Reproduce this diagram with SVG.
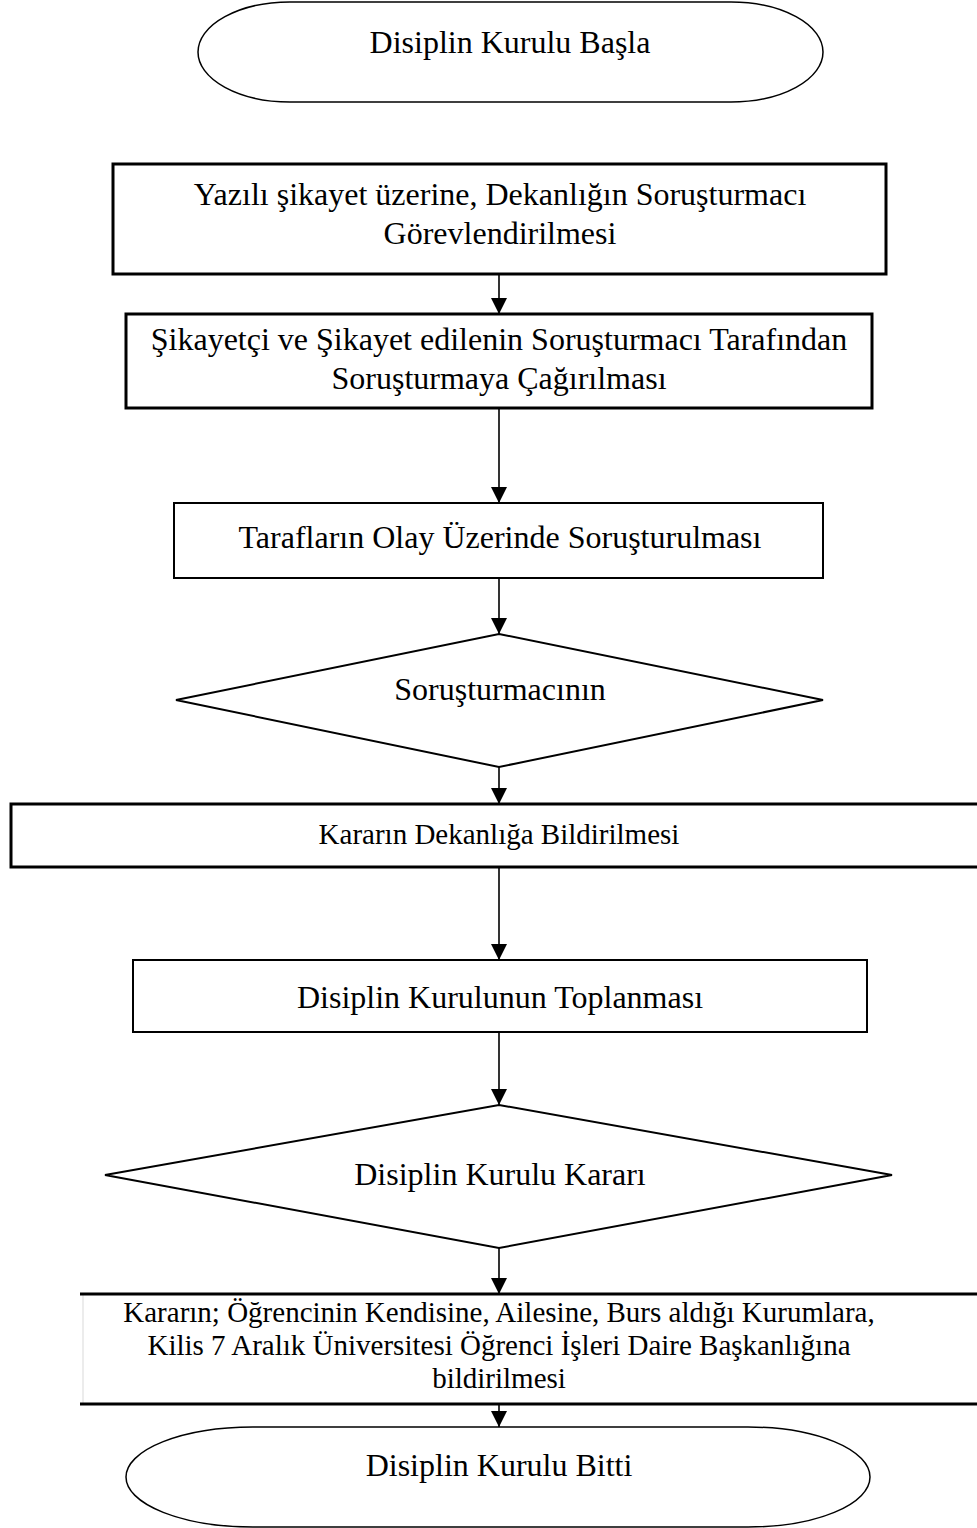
<svg xmlns="http://www.w3.org/2000/svg" width="977" height="1528" viewBox="0 0 977 1528">
<style>
.t{font-family:"Liberation Serif","Times New Roman",serif;font-size:32px;fill:#000;text-anchor:middle}
.s{font-size:29px}
.box{fill:#fff;stroke:#000;stroke-width:3}
.dia{fill:#fff;stroke:#000;stroke-width:2}
.term{fill:#fff;stroke:#000;stroke-width:1.5}
.con{stroke:#000;stroke-width:1.6;fill:none;marker-end:url(#ah)}
</style>
<defs>
<marker id="ah" markerUnits="userSpaceOnUse" markerWidth="18" markerHeight="16" refX="16" refY="8" orient="auto">
<path d="M0,0 L16,8 L0,16 Z" fill="#000"/>
</marker>
</defs>
<rect width="977" height="1528" fill="#fff"/>
<g id="start">
<path class="term" d="M290,2 L731,2 A92,50 0 0 1 731,102 L290,102 A92,50 0 0 1 290,2 Z"/>
<text class="t" x="510" y="53">Disiplin Kurulu Başla</text>
</g>
<g id="n1">
<rect class="box" x="113" y="164" width="773" height="110"/>
<text class="t" x="500" y="205">Yazılı şikayet üzerine, Dekanlığın Soruşturmacı</text>
<text class="t" x="500" y="244">Görevlendirilmesi</text>
</g>
<g id="n2">
<rect class="box" x="126" y="314" width="746" height="94"/>
<text class="t" x="499" y="350">Şikayetçi ve Şikayet edilenin Soruşturmacı Tarafından</text>
<text class="t" x="499" y="389">Soruşturmaya Çağırılması</text>
</g>
<g id="n3">
<rect class="box" x="174" y="503" width="649" height="75" style="stroke-width:2"/>
<text class="t" x="500" y="548">Tarafların Olay Üzerinde Soruşturulması</text>
</g>
<g id="d1">
<polygon class="dia" points="499,634 823,700 499,767 176,700"/>
<text class="t" x="500" y="700">Soruşturmacının</text>
</g>
<g id="n4">
<rect class="box" x="11" y="804" width="990" height="63"/>
<text class="t s" x="499" y="844">Kararın Dekanlığa Bildirilmesi</text>
</g>
<g id="n5">
<rect class="box" x="133" y="960" width="734" height="72" style="stroke-width:2"/>
<text class="t" x="500" y="1008">Disiplin Kurulunun Toplanması</text>
</g>
<g id="d2">
<polygon class="dia" points="499,1105 892,1175 499,1248 105,1175"/>
<text class="t" x="500" y="1185">Disiplin Kurulu Kararı</text>
</g>
<g id="n6">
<rect x="83" y="1294" width="920" height="110" fill="#fff"/>
<line x1="83" y1="1294" x2="83" y2="1404" stroke="#e6e6e6" stroke-width="1.5"/>
<line x1="80" y1="1294" x2="977" y2="1294" stroke="#000" stroke-width="3"/>
<line x1="80" y1="1404" x2="977" y2="1404" stroke="#000" stroke-width="3"/>
<text class="t s" x="499" y="1322">Kararın; Öğrencinin Kendisine, Ailesine, Burs aldığı Kurumlara,</text>
<text class="t s" x="499" y="1355">Kilis 7 Aralık Üniversitesi Öğrenci İşleri Daire Başkanlığına</text>
<text class="t s" x="499" y="1388">bildirilmesi</text>
</g>
<g id="end">
<path class="term" d="M253,1427 L748,1427 A122,50 0 0 1 748,1527 L253,1527 A127,50 0 0 1 253,1427 Z"/>
<text class="t" x="499" y="1476">Disiplin Kurulu Bitti</text>
</g>
<g id="connectors">
<line class="con" x1="499" y1="274" x2="499" y2="314"/>
<line class="con" x1="499" y1="408" x2="499" y2="503"/>
<line class="con" x1="499" y1="578" x2="499" y2="634"/>
<line class="con" x1="499" y1="767" x2="499" y2="804"/>
<line class="con" x1="499" y1="867" x2="499" y2="960"/>
<line class="con" x1="499" y1="1032" x2="499" y2="1105"/>
<line class="con" x1="499" y1="1248" x2="499" y2="1294"/>
<line class="con" x1="499" y1="1404" x2="499" y2="1427"/>
</g>
</svg>
